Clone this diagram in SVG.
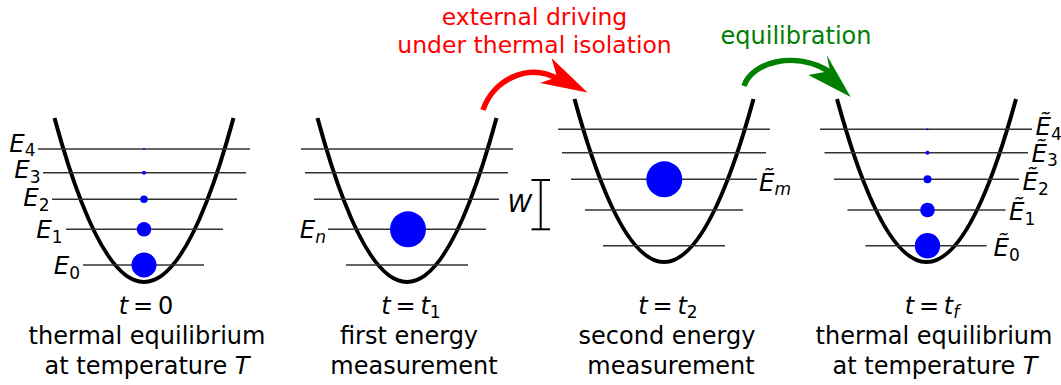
<svg xmlns="http://www.w3.org/2000/svg" width="1061" height="385" viewBox="0 0 1061 385">
<style>
.well{fill:none;stroke:#000;stroke-width:4}
.lvl{stroke:#333;stroke-width:1.6}
.dot{fill:#0000ff}
text{font-family:"DejaVu Sans","Liberation Sans",sans-serif;font-size:24px;fill:#000}
.lab{font-size:24.5px}
.it{font-style:italic}
.sub{font-size:17px}
.cap{text-anchor:middle}
.red{fill:#ff0000;font-size:23.5px}
.grn{fill:#008000}
</style>
<rect width="1061" height="385" fill="#fff"/>

<g id="panel-t0">
<path class="well" d="M54.5,118 Q144,446 233.5,118"/>
<line class="lvl" x1="38" y1="149" x2="250" y2="149"/>
<line class="lvl" x1="43" y1="172.7" x2="246" y2="172.7"/>
<line class="lvl" x1="52" y1="199.3" x2="237" y2="199.3"/>
<line class="lvl" x1="66" y1="229.3" x2="223" y2="229.3"/>
<line class="lvl" x1="83" y1="265" x2="204" y2="265"/>
<circle class="dot" cx="144" cy="149" r="1"/>
<circle class="dot" cx="144" cy="172.7" r="2"/>
<circle class="dot" cx="144" cy="199.3" r="3.8"/>
<circle class="dot" cx="144" cy="229.3" r="7.3"/>
<circle class="dot" cx="144" cy="265" r="12.5"/>
<text class="lab" x="35.5" y="151.7" text-anchor="end"><tspan class="it">E</tspan><tspan class="sub" dy="4.5">4</tspan></text>
<text class="lab" x="40.5" y="178.3" text-anchor="end"><tspan class="it">E</tspan><tspan class="sub" dy="4.5">3</tspan></text>
<text class="lab" x="49.5" y="206" text-anchor="end"><tspan class="it">E</tspan><tspan class="sub" dy="4.5">2</tspan></text>
<text class="lab" x="62.5" y="238.3" text-anchor="end"><tspan class="it">E</tspan><tspan class="sub" dy="4.5">1</tspan></text>
<text class="lab" x="80" y="274.3" text-anchor="end"><tspan class="it">E</tspan><tspan class="sub" dy="4.5">0</tspan></text>
<text class="cap" x="146" y="314"><tspan class="it">t</tspan>&#8201;=&#8201;0</text>
<text class="cap" x="147" y="344">thermal equilibrium</text>
<text class="cap" x="147" y="374">at temperature <tspan class="it">T</tspan></text>
</g>

<g id="panel-t1">
<path class="well" d="M317.5,118 Q407,446 496.5,118"/>
<line class="lvl" x1="301" y1="149" x2="513" y2="149"/>
<line class="lvl" x1="305" y1="172.7" x2="508" y2="172.7"/>
<line class="lvl" x1="314" y1="199.3" x2="499" y2="199.3"/>
<line class="lvl" x1="328" y1="229.3" x2="486" y2="229.3"/>
<line class="lvl" x1="346" y1="265" x2="468" y2="265"/>
<circle class="dot" cx="408" cy="229.3" r="18"/>
<text class="lab" x="326" y="238.3" text-anchor="end"><tspan class="it">E</tspan><tspan class="sub it" dy="4.5">n</tspan></text>
<g id="work-bar">
<line stroke="#000" stroke-width="2" x1="540.7" y1="180" x2="540.7" y2="229.3"/>
<line stroke="#000" stroke-width="2" x1="531.5" y1="180" x2="550" y2="180"/>
<line stroke="#000" stroke-width="2" x1="531.5" y1="229.3" x2="550" y2="229.3"/>
<text class="lab it" x="507.5" y="211.5">W</text>
</g>
<text class="cap" x="411" y="314"><tspan class="it">t</tspan>&#8201;=&#8201;<tspan class="it">t</tspan><tspan class="sub" dy="4">1</tspan></text>
<text class="cap" x="409" y="344">first energy</text>
<text class="cap" x="414" y="374">measurement</text>
</g>

<g id="panel-t2">
<path class="well" d="M574.5,99 Q664,425 753.5,99"/>
<line class="lvl" x1="558" y1="129.3" x2="770" y2="129.3"/>
<line class="lvl" x1="562" y1="152.7" x2="766" y2="152.7"/>
<line class="lvl" x1="571" y1="179.3" x2="757" y2="179.3"/>
<line class="lvl" x1="585" y1="210" x2="743" y2="210"/>
<line class="lvl" x1="603" y1="245.7" x2="725" y2="245.7"/>
<circle class="dot" cx="664.3" cy="179.3" r="18"/>
<text class="lab" x="759" y="191"><tspan class="it">Ẽ</tspan><tspan class="sub it" dy="4">m</tspan></text>
<text class="cap" x="668" y="314"><tspan class="it">t</tspan>&#8201;=&#8201;<tspan class="it">t</tspan><tspan class="sub" dy="4">2</tspan></text>
<text class="cap" x="667" y="344">second energy</text>
<text class="cap" x="671" y="374">measurement</text>
</g>

<g id="panel-tf">
<path class="well" d="M837,99 Q926.5,425 1016,99"/>
<line class="lvl" x1="820" y1="129.3" x2="1032" y2="129.3"/>
<line class="lvl" x1="824.5" y1="152.7" x2="1028" y2="152.7"/>
<line class="lvl" x1="834" y1="179.3" x2="1019" y2="179.3"/>
<line class="lvl" x1="847.5" y1="210" x2="1005.5" y2="210"/>
<line class="lvl" x1="865.5" y1="245.7" x2="986.5" y2="245.7"/>
<circle class="dot" cx="927.5" cy="129.3" r="1"/>
<circle class="dot" cx="927.5" cy="152.7" r="2"/>
<circle class="dot" cx="927.5" cy="179.3" r="4"/>
<circle class="dot" cx="927.5" cy="210" r="7.3"/>
<circle class="dot" cx="927.5" cy="245.7" r="12.7"/>
<text class="lab" x="1035.5" y="135"><tspan class="it">Ẽ</tspan><tspan class="sub" dy="4.5">4</tspan></text>
<text class="lab" x="1031.5" y="161.7"><tspan class="it">Ẽ</tspan><tspan class="sub" dy="4.5">3</tspan></text>
<text class="lab" x="1022.5" y="190"><tspan class="it">Ẽ</tspan><tspan class="sub" dy="4.5">2</tspan></text>
<text class="lab" x="1009" y="220"><tspan class="it">Ẽ</tspan><tspan class="sub" dy="4.5">1</tspan></text>
<text class="lab" x="993.5" y="256"><tspan class="it">Ẽ</tspan><tspan class="sub" dy="4.5">0</tspan></text>
<text class="cap" x="932" y="314"><tspan class="it">t</tspan>&#8201;=&#8201;<tspan class="it">t</tspan><tspan class="sub it" dy="4">f</tspan></text>
<text class="cap" x="934" y="344">thermal equilibrium</text>
<text class="cap" x="935" y="374">at temperature <tspan class="it">T</tspan></text>
</g>

<g id="connectors">
<g id="arrow-driving">
<path d="M483,110 C493,80 528,62 558,79" fill="none" stroke="#ff0000" stroke-width="5.5"/>
<polygon points="551.5,58 587.5,92.5 540,83 557,77" fill="#ff0000"/>
<text class="cap red" x="534.5" y="25">external driving</text>
<text class="cap red" x="534.5" y="52.5">under thermal isolation</text>
</g>
<g id="arrow-equilibration">
<path d="M744,86 C752,62 795,50 830,72" fill="none" stroke="#008000" stroke-width="5.5"/>
<polygon points="826.7,55 850.7,97 808.3,75 830,71" fill="#008000"/>
<text class="cap grn" x="796" y="44">equilibration</text>
</g>
</g>
</svg>
